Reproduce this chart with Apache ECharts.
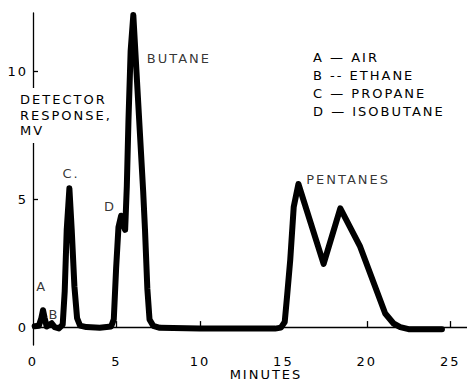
<!DOCTYPE html>
<html>
<head>
<meta charset="utf-8">
<script src="https://cdn.jsdelivr.net/npm/echarts@6/dist/echarts.min.js"></script>
<style>
  html, body { margin: 0; padding: 0; background: #fff; }
  #chart { width: 467px; height: 387px; }
  #chart text { letter-spacing: 2px; }
</style>
</head>
<body>
<div id="chart"></div>
<script>
// Chromatogram trace: [minutes, detector response in mV]
const trace = [
  [0.10, 0.03], [0.35, 0.05], [0.50, 0.35], [0.60, 0.66], [0.70, 0.35],
  [0.82, 0.02], [1.00, 0.10], [1.12, 0.15], [1.30, 0.00], [1.55, -0.05],
  [1.78, 0.10], [1.90, 1.40], [2.02, 3.80], [2.18, 5.42], [2.32, 3.80],
  [2.48, 1.60], [2.64, 0.35], [2.82, 0.06], [3.20, 0.00], [4.00, -0.03],
  [4.68, 0.02], [4.84, 0.30], [4.98, 2.30], [5.12, 3.90], [5.28, 4.35],
  [5.40, 4.00], [5.52, 3.80], [5.62, 5.50], [5.72, 8.10], [5.85, 10.80],
  [6.01, 12.19], [6.60, 5.30], [6.71, 3.80],
  [6.85, 1.50], [6.98, 0.30], [7.20, 0.05], [7.60, -0.03], [10.00, -0.06],
  [14.50, -0.06], [14.85, -0.02], [15.08, 0.20], [15.22, 1.20], [15.41, 2.62],
  [15.62, 4.70], [15.90, 5.59], [17.41, 2.47],
  [18.41, 4.64], [19.60, 3.14],
  [21.10, 0.53], [21.60, 0.14], [22.00, 0.00], [22.50, -0.08], [24.50, -0.08]
];

// Peak annotations: [minutes, mV, text]
const peakLabels = [
  [0.52, 1.57, 'A'],
  [1.26, 0.51, 'B'],
  [2.28, 6.00, 'C.'],
  [4.62, 4.70, 'D']
];
const namedPeaks = [
  [6.82, 10.50, 'BUTANE'],
  [16.37, 5.77, 'PENTANES']
];

// Key to the lettered peaks
const keyLines = ['A — AIR', 'B -- ETHANE', 'C — PROPANE', 'D — ISOBUTANE'];

const xTicks = [0, 5, 10, 15, 20, 25];
const yTicks = [0, 5, 10];

const FONT = 'DejaVu Sans';
const INK = '#000';

const chart = echarts.init(document.getElementById('chart'), null, { renderer: 'svg' });

chart.setOption({
  animation: false,
  backgroundColor: '#fff',
  grid: { left: 33, right: 0, top: 13, bottom: 42 },
  xAxis: {
    type: 'value',
    min: 0,
    max: 26,
    splitLine: { show: false },
    axisLine: { show: true, lineStyle: { color: INK, width: 1.3 } },
    axisTick: {
      show: true, inside: true, length: 6,
      customValues: xTicks.filter(v => v > 0),
      lineStyle: { color: INK, width: 1.3 }
    },
    axisLabel: {
      customValues: xTicks,
      margin: 10,
      color: INK,
      fontFamily: FONT,
      fontSize: 13,
      lineHeight: 12
    }
  },
  yAxis: {
    type: 'value',
    min: -0.7,
    max: 12.27,
    splitLine: { show: false },
    axisLine: { show: true, lineStyle: { color: INK, width: 1.3 } },
    axisTick: {
      show: true, inside: true, length: 5,
      customValues: yTicks,
      lineStyle: { color: INK, width: 1.3 }
    },
    axisLabel: {
      customValues: yTicks,
      margin: 5,
      color: INK,
      fontFamily: FONT,
      fontSize: 13
    }
  },
  series: [
    {
      type: 'line',
      data: trace,
      showSymbol: false,
      smooth: false,
      lineStyle: { color: INK, width: 6, join: 'round', cap: 'round' },
      z: 3
    },
    {
      type: 'scatter',
      data: peakLabels.map(p => ({ value: [p[0], p[1]], name: p[2] })),
      symbolSize: 0,
      itemStyle: { color: INK },
      label: {
        show: true,
        position: 'inside',
        formatter: p => p.name,
        color: INK,
        fontFamily: FONT,
        fontSize: 13
      },
      silent: true,
      z: 4
    },
    {
      type: 'scatter',
      data: namedPeaks.map(p => ({ value: [p[0], p[1]], name: p[2] })),
      symbolSize: 0,
      itemStyle: { color: INK },
      label: {
        show: true,
        position: 'right',
        distance: 0,
        formatter: p => p.name,
        color: INK,
        fontFamily: FONT,
        fontSize: 13
      },
      silent: true,
      z: 4
    }
  ],
  graphic: [
    // break in the vertical axis behind its title
    { type: 'rect', shape: { x: 29, y: 88, width: 8, height: 55 }, style: { fill: '#fff' }, z: 10 },
    {
      type: 'text', left: 20, top: 92, z: 11,
      style: {
        text: 'DETECTOR\nRESPONSE,\nMV',
        fill: INK, font: '13px ' + FONT, lineHeight: 15.5
      }
    },
    {
      type: 'text', z: 11,
      style: { x: 266, y: 374.5, text: 'MINUTES', fill: INK, font: '13px ' + FONT, lineHeight: 12, align: 'center', verticalAlign: 'middle' }
    },
    ...keyLines.map((t, i) => ({
      type: 'text', z: 11,
      style: { x: 313, y: 57.5 + i * 17.9, text: t, fill: INK, font: '13px ' + FONT, align: 'left', verticalAlign: 'middle' }
    }))
  ]
});
</script>
</body>
</html>
